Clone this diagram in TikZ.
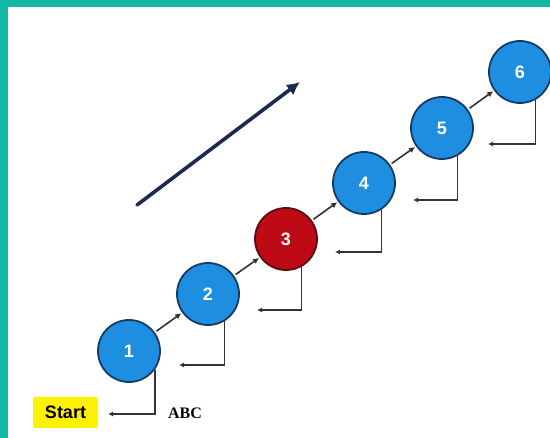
\documentclass[tikz,border=0pt]{standalone}
\usepackage{fontspec}
\setmainfont{Liberation Serif}
\setsansfont{Liberation Sans}
\usetikzlibrary{arrows.meta}
\definecolor{teal1}{HTML}{14B8A8}
\definecolor{cblue}{HTML}{1E8FE0}
\definecolor{cblueb}{HTML}{163A66}
\definecolor{cred}{HTML}{BE0A14}
\definecolor{credb}{HTML}{5A0A10}
\definecolor{navy}{HTML}{1B2A4E}
\definecolor{lgray}{HTML}{333333}
\definecolor{ylw}{HTML}{FFF200}
\tikzset{
  stepnode/.style={circle, minimum size=62pt, inner sep=0pt, fill=cblue, draw=cblueb, line width=1.8pt,
     text=white, font=\sffamily\bfseries\fontsize{18}{18}\selectfont},
  rednode/.style={stepnode, fill=cred, draw=credb},
  link/.style={draw=lgray, line width=1.6pt, -{Latex[length=6pt,width=6pt]}, shorten <=2pt, shorten >=1pt},
  fb/.style={draw=lgray, line width=1.5pt, -{Latex[length=5pt,width=5pt]}},
}
\begin{document}
\begin{tikzpicture}[x=1pt,y=-1pt]
\useasboundingbox (0,0) rectangle (550,438);
\fill[white] (0,0) rectangle (550,438);
\fill[teal1] (0,0) rectangle (8,438);
\fill[teal1] (0,0) rectangle (550,7);

\node[stepnode] (n1) at (129,351) {1};
\node[stepnode] (n2) at (208,294) {2};
\node[rednode]  (n3) at (286,239) {3};
\node[stepnode] (n4) at (364,183) {4};
\node[stepnode] (n5) at (442,128) {5};
\node[stepnode] (n6) at (520,72) {6};

\draw[link] (n1) -- (n2);
\draw[link] (n2) -- (n3);
\draw[link] (n3) -- (n4);
\draw[link] (n4) -- (n5);
\draw[link] (n5) -- (n6);

\coordinate (e1) at (108,414);
\coordinate (e2) at (179,365);
\coordinate (e3) at (257,310);
\coordinate (e4) at (335,252);
\coordinate (e5) at (413,200);
\coordinate (e6) at (488,144);

\draw[fb] (n1.-36) |- (e1);
\draw[fb] (n2.-59) |- (e2);
\draw[fb] (n3.-61) |- (e3);
\draw[fb] (n4.-57) |- (e4);
\draw[fb] (n5.-61) |- (e5);
\draw[fb] (n6.-61) |- (e6);

\node[fill=ylw, rounded corners=2pt, minimum width=65pt, minimum height=31pt, inner sep=0pt,
      font=\sffamily\bfseries\fontsize{18}{18}\selectfont] (start) at (65.5,412.5) {Start};
\node[font=\bfseries\fontsize{16}{16}\selectfont] (abc) at (185,413) {ABC};

\coordinate (a1) at (137,205);
\coordinate (a2) at (300,82);
\draw[navy, line width=3.6pt, line cap=round, -{Latex[length=13pt,width=13pt]}] (a1) -- (a2);
\end{tikzpicture}
\end{document}
